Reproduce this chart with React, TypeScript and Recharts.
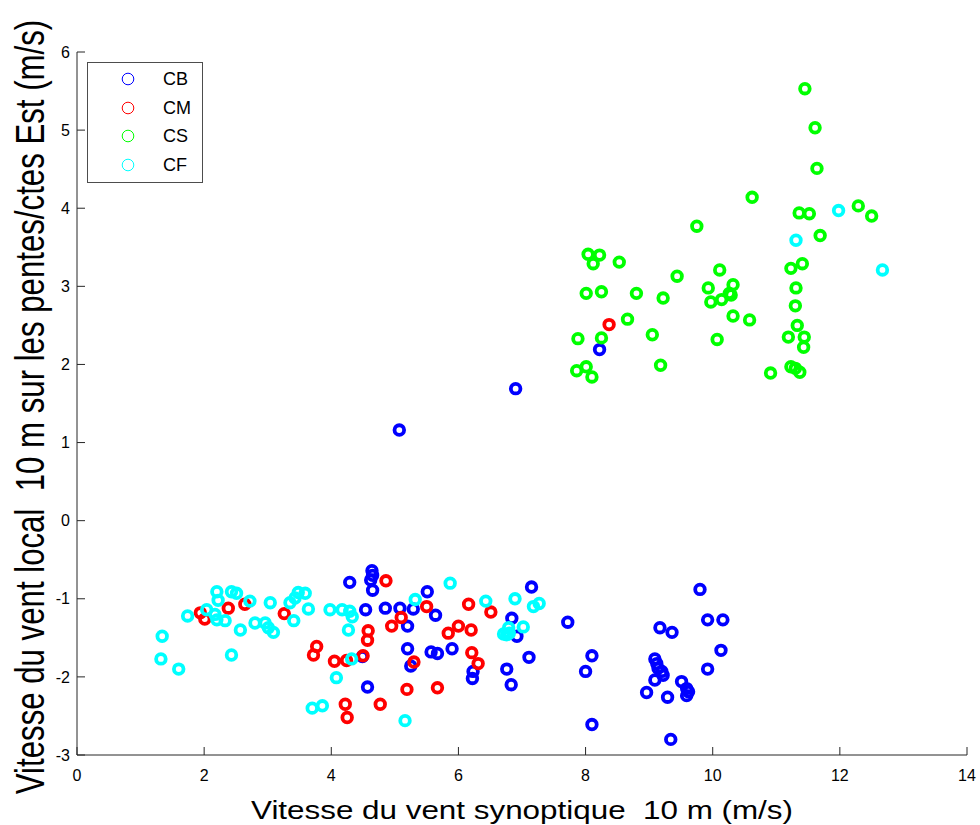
import React from 'react';
import { ScatterChart, Scatter, XAxis, YAxis, Legend, Label } from 'recharts';

type Pt = [number, number];

const X_TICKS = [0, 2, 4, 6, 8, 10, 12, 14];
const Y_TICKS = [-3, -2, -1, 0, 1, 2, 3, 4, 5, 6];

const SERIES_NAMES = ['CB', 'CM', 'CS', 'CF'];
const SERIES_COLORS = ['#0000ff', '#ff0000', '#00ff00', '#00ffff'];

const X_LABEL = 'Vitesse du vent synoptique  10 m (m/s)';
const Y_LABEL = 'Vitesse du vent local  10 m sur les pentes/ctes Est (m/s)';

const CB: Pt[] = [
  [5.07, 1.16], [6.9, 1.69], [8.22, 2.19],
  [4.29, -0.79], [4.64, -0.64], [4.65, -0.7], [4.62, -0.76], [4.65, -0.89],
  [4.54, -1.14], [4.85, -1.12], [5.08, -1.12], [5.29, -1.13], [5.51, -0.91], [5.64, -1.21],
  [5.2, -1.35], [5.2, -1.64], [5.25, -1.86], [5.57, -1.68], [5.67, -1.7], [5.9, -1.64],
  [4.49, -1.74], [4.57, -2.13],
  [6.23, -1.93], [6.22, -2.02], [6.76, -1.9], [6.83, -2.1], [6.84, -1.25], [6.92, -1.48], [7.11, -1.75], [7.15, -0.85],
  [7.72, -1.3], [8.1, -1.73], [8.0, -1.93], [8.1, -2.61],
  [9.17, -1.37], [9.36, -1.43], [9.09, -1.77], [9.12, -1.83], [9.14, -1.89], [9.2, -1.93], [9.22, -1.98], [9.09, -2.04],
  [8.96, -2.2], [9.29, -2.26], [9.34, -2.8],
  [9.51, -2.06], [9.59, -2.15], [9.62, -2.19], [9.59, -2.24],
  [9.8, -0.88], [9.92, -1.27], [10.16, -1.27], [10.13, -1.66], [9.92, -1.9],
];

const CM: Pt[] = [
  [8.37, 2.51],
  [1.94, -1.18], [2.01, -1.26], [2.38, -1.12], [2.64, -1.07], [3.26, -1.19], [3.77, -1.61], [3.72, -1.72],
  [4.05, -1.8], [4.24, -1.79], [4.5, -1.73], [4.58, -1.41], [4.57, -1.53], [4.22, -2.35], [4.25, -2.52],
  [4.86, -0.77], [5.1, -1.24], [4.95, -1.35], [5.3, -1.81], [5.19, -2.16], [5.67, -2.14], [4.77, -2.35],
  [5.5, -1.1], [5.84, -1.44], [6.0, -1.35], [6.2, -1.4], [6.16, -1.07], [6.51, -1.17], [6.21, -1.69], [6.31, -1.83],
];

const CS: Pt[] = [
  [11.45, 5.53], [11.61, 5.03], [11.64, 4.51], [10.62, 4.14], [11.36, 3.94], [11.52, 3.93],
  [12.29, 4.03], [12.5, 3.9], [9.75, 3.77], [11.69, 3.65],
  [8.04, 3.41], [8.22, 3.4], [8.12, 3.29], [8.53, 3.31], [11.41, 3.29], [11.23, 3.23], [10.11, 3.21], [9.44, 3.13],
  [11.31, 2.98], [9.93, 2.98], [10.32, 3.02], [10.26, 2.91], [10.29, 2.89], [8.01, 2.91], [8.25, 2.93], [8.8, 2.91],
  [9.22, 2.85], [9.97, 2.8], [10.14, 2.83], [11.3, 2.75], [10.32, 2.62], [10.58, 2.57], [8.66, 2.58], [11.33, 2.5],
  [7.88, 2.33], [8.25, 2.34], [9.05, 2.38], [10.07, 2.32], [11.19, 2.35], [11.44, 2.35], [11.43, 2.22],
  [7.86, 1.92], [8.01, 1.97], [8.1, 1.84], [9.18, 1.99], [10.91, 1.89], [11.23, 1.97], [11.3, 1.95], [11.37, 1.9],
];

const CF: Pt[] = [
  [11.98, 3.97], [11.31, 3.59], [12.67, 3.21],
  [1.34, -1.48], [1.32, -1.77], [1.6, -1.9], [1.74, -1.22],
  [2.2, -0.91], [2.22, -1.02], [2.04, -1.14], [2.17, -1.2], [2.2, -1.27], [2.33, -1.28],
  [2.43, -0.91], [2.51, -0.93], [2.72, -1.03], [2.57, -1.4], [2.43, -1.72], [2.8, -1.31],
  [2.96, -1.31], [3.01, -1.37], [3.09, -1.43], [3.04, -1.05],
  [3.35, -1.05], [3.43, -0.99], [3.48, -0.92], [3.59, -0.93], [3.41, -1.28], [3.64, -1.13],
  [3.98, -1.14], [4.17, -1.14], [4.29, -1.16], [4.33, -1.23], [4.27, -1.4], [4.32, -1.77],
  [4.08, -2.01], [3.7, -2.4], [3.86, -2.37],
  [5.32, -1.01], [5.87, -0.8], [5.16, -2.56],
  [6.43, -1.03], [6.89, -1.0], [7.18, -1.1], [7.27, -1.06],
  [6.71, -1.45], [6.76, -1.46], [6.8, -1.44], [6.79, -1.37], [7.02, -1.36],
];

const SERIES_DATA = [CB, CM, CS, CF];

const FONT = '"Liberation Sans", Arial, Helvetica, sans-serif';
const AXIS_COLOR = '#262626';

const toRows = (pts: Pt[]) => pts.map(([x, y]) => ({ x, y }));

const makeShape = (color: string) => (props: any) => {
  const { cx, cy } = props;
  if (cx == null || cy == null) return <g />;
  return <circle cx={cx} cy={cy} r={4.8} fill="none" stroke={color} strokeWidth={3.8} />;
};

const LegendBox = () => (
  <div
    style={{
      width: 116,
      height: 121,
      boxSizing: 'border-box',
      border: '1px solid #4d4d4d',
      background: '#fff',
      position: 'relative',
      fontFamily: FONT,
    }}
  >
    {SERIES_NAMES.map((name, i) => (
      <div key={name} style={{ position: 'absolute', left: 0, top: 16 + i * 28.5 - 12, height: 24, width: 114 }}>
        <svg width={60} height={24} style={{ position: 'absolute', left: 0, top: 0 }}>
          <circle cx={40} cy={12} r={5.8} fill="none" stroke={SERIES_COLORS[i]} strokeWidth={1} />
        </svg>
        <span
          style={{
            position: 'absolute',
            left: 75,
            top: 0,
            lineHeight: '24px',
            fontSize: 18,
            color: '#000',
          }}
        >
          {name}
        </span>
      </div>
    ))}
  </div>
);

const XTitle = (props: any) => {
  const vb = props.viewBox || {};
  const cx = (vb.x ?? 77) + (vb.width ?? 890) / 2;
  return (
    <text
      x={0}
      y={0}
      transform={`translate(${cx},819) scale(1,0.8)`}
      textAnchor="middle"
      fontSize={31.4}
      fontFamily={FONT}
      fill="#000"
      style={{ whiteSpace: 'pre' }}
    >
      {X_LABEL}
    </text>
  );
};

const YTitle = () => (
  <text
    x={0}
    y={0}
    transform="translate(44,407) rotate(-90) scale(1,1.3)"
    textAnchor="middle"
    fontSize={31.2}
    fontFamily={FONT}
    fill="#000"
    style={{ whiteSpace: 'pre' }}
  >
    {Y_LABEL}
  </text>
);

export default function App() {
  return (
    <div style={{ position: 'absolute', left: 0, top: 0, width: 980, height: 825, background: '#fff' }}>
      <ScatterChart
        width={980}
        height={825}
        margin={{ top: 52, right: 13, bottom: 0, left: 0 }}
        style={{ fontFamily: FONT }}
      >
        <XAxis
          type="number"
          dataKey="x"
          domain={[0, 14]}
          ticks={X_TICKS}
          interval={0}
          allowDataOverflow
          height={70}
          tickSize={-8}
          tickMargin={23}
          axisLine={{ stroke: AXIS_COLOR, strokeWidth: 1 }}
          tickLine={{ stroke: AXIS_COLOR, strokeWidth: 1 }}
          tick={{ fontSize: 16, fill: '#000', fontFamily: FONT }}
        >
          <Label content={<XTitle />} />
        </XAxis>
        <YAxis
          type="number"
          dataKey="y"
          domain={[-3, 6]}
          ticks={Y_TICKS}
          interval={0}
          allowDataOverflow
          width={77}
          tickSize={-8}
          tickMargin={15}
          axisLine={{ stroke: AXIS_COLOR, strokeWidth: 1 }}
          tickLine={{ stroke: AXIS_COLOR, strokeWidth: 1 }}
          tick={{ fontSize: 16, fill: '#000', fontFamily: FONT }}
        >
          <Label content={<YTitle />} />
        </YAxis>
        {SERIES_DATA.map((pts, i) => (
          <Scatter
            key={SERIES_NAMES[i]}
            name={SERIES_NAMES[i]}
            data={toRows(pts)}
            fill={SERIES_COLORS[i]}
            shape={makeShape(SERIES_COLORS[i])}
            isAnimationActive={false}
          />
        ))}
        <Legend
          layout="vertical"
          align="center"
          verticalAlign="middle"
          content={<LegendBox />}
          wrapperStyle={{ position: 'absolute', left: 87, top: 62, width: 116, height: 121 }}
        />
      </ScatterChart>
    </div>
  );
}
